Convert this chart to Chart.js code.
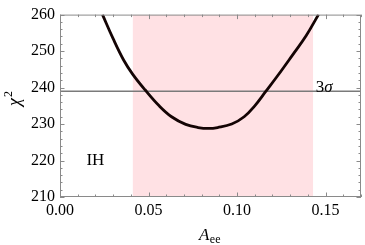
<!DOCTYPE html>
<html><head><meta charset="utf-8">
<script src="https://cdn.jsdelivr.net/npm/chart.js@4.4.0/dist/chart.umd.min.js"></script>
<style>html,body{margin:0;padding:0;background:#fff}#c{display:block}</style>
</head><body>
<canvas id="c" width="365" height="245" style="width:365px;height:245px"></canvas>
<script>
// Data
const aee  = [0.024, 0.030, 0.036, 0.041, 0.048, 0.056, 0.063, 0.071, 0.078, 0.084, 0.089, 0.097, 0.104, 0.110, 0.116, 0.123, 0.131, 0.139, 0.146];
const chi2 = [260.0, 253.4, 247.5, 243.7, 239.4, 235.0, 232.0, 229.9, 229.05, 228.8, 229.05, 230.0, 232.0, 235.0, 238.8, 243.3, 248.7, 254.2, 260.0];
const bandEdges = [0.041, 0.143];
const sigma3Level = 239;
const xRange = [0, 0.17];
const yRange = [210, 260];
const xMajorTicks = ["0.00", "0.05", "0.10", "0.15"];
const yMajorTicks = ["210", "220", "230", "240", "250", "260"];
const labelIH = {x: 0.02, y: 220, text: "IH"};
const label3s = {x: 0.1445, y: 239};

const FONT = "'Liberation Serif', 'Times New Roman', serif";

const curve = aee.map((v, i) => ({x: v, y: chi2[i]}));
const band = bandEdges.map(v => ({x: v, y: yRange[1]}));
const line3s = xRange.map(v => ({x: v, y: sigma3Level}));

const decor = {
  id: 'decor',
  afterDraw(chart) {
    const {ctx, chartArea: a, scales: {x, y}} = chart;
    ctx.save();
    ctx.strokeStyle = '#8a8a8a';
    ctx.lineWidth = 1;
    ctx.strokeRect(a.left + 0.5, a.top + 0.5, a.right - a.left - 1, a.bottom - a.top - 1);
    ctx.beginPath();
    x.ticks.forEach(t => {
      const p = Math.round(x.getPixelForValue(t.value)) + 0.5;
      const L = t.label ? 4.5 : 2.5;
      ctx.moveTo(p, a.bottom); ctx.lineTo(p, a.bottom - L);
      ctx.moveTo(p, a.top); ctx.lineTo(p, a.top + L);
    });
    y.ticks.forEach(t => {
      const p = Math.round(y.getPixelForValue(t.value)) + 0.5;
      const L = t.label ? 4.5 : 2.5;
      ctx.moveTo(a.left, p); ctx.lineTo(a.left + L, p);
      ctx.moveTo(a.right, p); ctx.lineTo(a.right - L, p);
    });
    ctx.stroke();

    // annotations
    ctx.fillStyle = '#000';
    ctx.textBaseline = 'middle';
    ctx.textAlign = 'center';
    ctx.font = "17px " + FONT;
    ctx.fillText(labelIH.text, x.getPixelForValue(labelIH.x), y.getPixelForValue(labelIH.y));

    ctx.textBaseline = 'alphabetic';
    ctx.textAlign = 'left';
    let px = x.getPixelForValue(label3s.x), py = y.getPixelForValue(label3s.y) + 1;
    ctx.font = "17px " + FONT;
    ctx.fillText("3", px, py);
    px += ctx.measureText("3").width;
    ctx.font = "italic 17px " + FONT;
    ctx.fillText("σ", px, py);

    // x title: A_ee
    const cx = (a.left + a.right) / 2;
    ctx.font = "italic 17px " + FONT;
    const wA = ctx.measureText("A").width;
    ctx.font = "12px " + FONT;
    const wE = ctx.measureText("ee").width;
    let sx = cx - (wA + wE) / 2 - 1;
    ctx.font = "italic 17px " + FONT;
    ctx.fillText("A", sx, 240);
    ctx.font = "12px " + FONT;
    ctx.fillText("ee", sx + wA + 0.5, 243);

    // y title: chi^2
    ctx.translate(15, 99);
    ctx.rotate(-Math.PI / 2);
    ctx.font = "italic 18px " + FONT;
    const wc = ctx.measureText("χ").width;
    ctx.font = "12px " + FONT;
    const w2 = ctx.measureText("2").width;
    ctx.font = "italic 18px " + FONT;
    ctx.fillText("χ", -(wc + w2) / 2, 5);
    ctx.font = "12px " + FONT;
    ctx.fillText("2", -(wc + w2) / 2 + wc + 1, -3);
    ctx.restore();
  }
};

new Chart(document.getElementById('c'), {
  type: 'line',
  data: {
    datasets: [
      {data: curve, borderColor: '#140404', borderWidth: 2.8, pointRadius: 0, tension: 0.4, fill: false, order: 1},
      {data: line3s, borderColor: '#7a7a7a', borderWidth: 1.4, pointRadius: 0, fill: false, order: 2},
      {data: band, borderWidth: 0, borderColor: 'rgba(0,0,0,0)', backgroundColor: '#ffe1e4', pointRadius: 0, fill: 'start', order: 3}
    ]
  },
  options: {
    responsive: false,
    animation: false,
    devicePixelRatio: 1,
    layout: {padding: {top: 8, right: 1, left: 0, bottom: 0}},
    plugins: {legend: {display: false}, tooltip: {enabled: false}},
    scales: {
      x: {
        type: 'linear', min: xRange[0], max: xRange[1],
        afterFit: s => { s.height = 48; },
        ticks: {
          stepSize: 0.01, autoSkip: false, maxRotation: 0, padding: 4, color: '#000',
          font: {family: FONT, size: 16},
          callback: v => { const s = v.toFixed(2); return xMajorTicks.includes(s) ? s : ''; }
        },
        grid: {display: true, drawOnChartArea: false, drawTicks: false, color: 'rgba(0,0,0,0)'},
        border: {display: false}
      },
      y: {
        type: 'linear', min: yRange[0], max: yRange[1],
        afterFit: s => { s.width = 60; },
        ticks: {
          stepSize: 2, autoSkip: false, padding: 5, color: '#000',
          font: {family: FONT, size: 16},
          callback: v => { const s = String(Math.round(v)); return yMajorTicks.includes(s) ? s : ''; }
        },
        grid: {display: true, drawOnChartArea: false, drawTicks: false, color: 'rgba(0,0,0,0)'},
        border: {display: false}
      }
    }
  },
  plugins: [decor]
});
</script>
</body></html>
